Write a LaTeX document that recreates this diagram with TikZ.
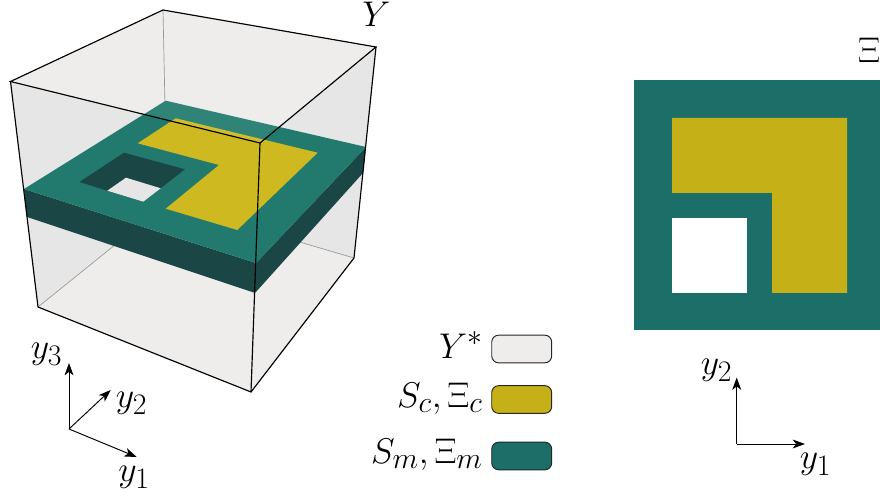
\documentclass[tikz,border=0pt]{standalone}
\usetikzlibrary{arrows.meta}
\definecolor{voidc}{HTML}{EEEDEB}
\definecolor{wallc}{HTML}{E6E6E6}
\definecolor{fibc}{HTML}{C6B018}
\definecolor{fibtop}{HTML}{CFB920}
\definecolor{matc}{HTML}{1B6F68}
\definecolor{mattop}{HTML}{217A6D}
\definecolor{matdark}{HTML}{1A4745}
\tikzset{
	lab/.style={font=\Huge, scale=1.05, inner sep=0pt},
	legbox/.style={draw=black!85, line width=0.7pt, rounded corners=5pt, minimum width=1.54cm, minimum height=0.71cm, inner sep=0pt},
	axis/.style={-{Stealth[length=9pt, width=6.5pt, inset=2.5pt]}, line width=0.7pt},
	edge/.style={line width=0.85pt, black},
	hidden/.style={line width=0.5pt, black!40}
}
\begin{document}
\begin{tikzpicture}[x=0.0257cm, y=-0.0257cm]
	\useasboundingbox (0,0) rectangle (880,497);
	\clip (0,0) rectangle (880,497);
	
	% Corners of the cell
	\coordinate (tl) at (10.5,81.5);
	\coordinate (tb) at (163,10);
	\coordinate (tr) at (376,47);
	\coordinate (tf) at (260,143);
	\coordinate (bl) at (38,307);
	\coordinate (bb) at (167,203);
	\coordinate (br) at (354,258);
	\coordinate (bf) at (251,392);
	
	% Walls, floor and top
	\fill[wallc] (tl) -- (tb) -- (tr) -- (br) -- (bf) -- (bl) -- cycle;
	\fill[voidc] (bl) -- (bb) -- (br) -- (bf) -- cycle;
	\fill[voidc] (tl) -- (tb) -- (tr) -- (tf) -- cycle;
	\draw[hidden] (tb) -- (bb);
	\draw[hidden] (bl) -- (bb) -- (br);
	
	% Plate
	\fill[matdark] (24,189) -- (256,263) -- (366,147) -- (363,173) -- (255,293) -- (27,217) -- cycle;
	\fill[mattop] (24,189) -- (165.7,100.7) -- (366,147) -- (256,263) -- cycle;
	\fill[matdark] (79.3,182) -- (124,152.7) -- (185,169.3) -- (143.3,201.7) -- (107.3,190.7) -- cycle;
	\fill[wallc] (107.3,190.7) -- (126,177.7) -- (160.7,188.3) -- (143.3,201.7) -- cycle;
	\fill[fibtop] (137.7,143.3) -- (175.7,118.3) -- (317.7,152.7) -- (237.3,230) -- (165.7,208.7) -- (219,165) -- cycle;
	
	% Part of the plate seen through the top only
	\begin{scope}
		\clip (tl) -- (tb) -- (tr) -- (tf) -- cycle;
		\fill[white, opacity=0.07] (24,189) -- (165.7,100.7) -- (366,147) -- (256,263) -- cycle;
	\end{scope}
	
	% Edges of the cell
	\draw[edge] (tl) -- (tb) -- (tr) -- (tf) -- cycle;
	\draw[edge] (tl) -- (bl) -- (bf) -- (br) -- (tr);
	\draw[edge] (tf) -- (bf);
	\node[lab, anchor=base] (lbly) at (376.5,26.5) {$Y$};
	
	% Axes of the cell
	\coordinate (o3d) at (69,429);
	\coordinate (e3) at (69,363);
	\coordinate (e2) at (110.7,390);
	\coordinate (e1) at (136.7,457);
	\draw[axis] (o3d) -- (e3);
	\draw[axis] (o3d) -- (e2);
	\draw[axis] (o3d) -- (e1);
	\node[lab] (lbla) at (46.5,354) {$y_3$};
	\node[lab] (lblb) at (131.5,403) {$y_2$};
	\node[lab] (lblc) at (134,477) {$y_1$};
	
	% Legend
	\node[legbox, fill=voidc] (boxvoid) at (521.7,349) {};
	\node[legbox, fill=fibc] (boxfib) at (521.7,399.5) {};
	\node[legbox, fill=matc] (boxmat) at (521.7,456) {};
	\node[lab, anchor=base east] (lblvoid) at (483,358) {$Y^*$};
	\node[lab, anchor=base east] (lblfib) at (483,407) {$S_c, \Xi_c$};
	\node[lab, anchor=base east] (lblmat) at (483,463) {$S_m, \Xi_m$};
	
	% Cross section
	\fill[matc] (634,80) rectangle (884,330);
	\fill[fibc] (672,118) -- (847,118) -- (847,293) -- (772,293) -- (772,193) -- (672,193) -- cycle;
	\fill[white] (672,218) rectangle (747,293);
	\node[lab, anchor=base] (lblxi) at (869,63) {$\Xi$};
	
	% Axes of the section
	\coordinate (o2d) at (736.7,444);
	\coordinate (f2) at (736.7,377.5);
	\coordinate (f1) at (805,444);
	\draw[axis] (o2d) -- (f2);
	\draw[axis] (o2d) -- (f1);
	\node[lab] (lbld) at (716.5,370) {$y_2$};
	\node[lab] (lble) at (815.5,464) {$y_1$};
\end{tikzpicture}
\end{document}
